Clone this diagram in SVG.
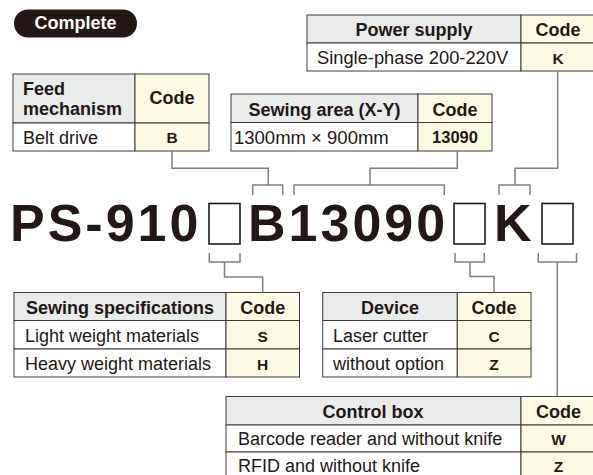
<svg xmlns="http://www.w3.org/2000/svg" width="593" height="475" viewBox="0 0 593 475">
<defs>
<style>
text{font-family:"Liberation Sans",Arial,Helvetica,sans-serif;font-size:18px;fill:#231815}
.b{font-weight:bold}
.c{text-anchor:middle}
.k{font-size:15.5px}
.hd{fill:#eaebeb;stroke:#3e3a39;stroke-width:1}
.cd{fill:#fdfbe4;stroke:#3e3a39;stroke-width:1}
.rw{fill:#ffffff;stroke:#3e3a39;stroke-width:1}
.big{font-size:52px;font-weight:bold;letter-spacing:3px}
.box{fill:#ffffff;stroke:#231815;stroke-width:1.6}
.ln{fill:none;stroke:#7f7f7f;stroke-width:1.5}
</style>
</defs>
<rect width="593" height="475" fill="#ffffff"/>

<g id="badge">
<rect x="14" y="9.5" width="123" height="28" rx="14" fill="#231815"/>
<text x="75.5" y="29" class="b c" style="fill:#ffffff">Complete</text>
</g>

<g id="title">
<text x="10" y="241" class="big">PS-910</text>
<rect x="209" y="203.5" width="31" height="40.5" class="box"/>
<text x="248" y="241" class="big">B13090</text>
<rect x="454" y="203.5" width="31" height="40.5" class="box"/>
<text x="494" y="241" class="big">K</text>
<rect x="542" y="203.5" width="31" height="40.5" class="box"/>
</g>

<g id="feed">
<rect x="13" y="74" width="122" height="49" class="hd"/>
<rect x="135" y="74" width="74" height="49" class="cd"/>
<rect x="13" y="123" width="122" height="28" class="rw"/>
<rect x="135" y="123" width="74" height="28" class="cd"/>
<text x="23" y="95" class="b">Feed</text>
<text x="23" y="115" class="b">mechanism</text>
<text x="172" y="104" class="b c">Code</text>
<text x="23" y="143.5">Belt drive</text>
<text x="172" y="143" class="b c k">B</text>
</g>

<g id="sewing-area">
<rect x="231" y="94" width="187" height="28.5" class="hd"/>
<rect x="418" y="94" width="74" height="28.5" class="cd"/>
<rect x="231" y="122.5" width="187" height="28.5" class="rw"/>
<rect x="418" y="122.5" width="74" height="28.5" class="cd"/>
<text x="324.5" y="115.5" class="b c">Sewing area (X-Y)</text>
<text x="455" y="115.5" class="b c">Code</text>
<text x="234" y="143.5" style="font-size:18.5px">1300mm × 900mm</text>
<text x="455" y="143" class="b c" style="font-size:16.5px">13090</text>
</g>

<g id="power-supply">
<rect x="307" y="15" width="214" height="28" class="hd"/>
<rect x="521" y="15" width="76" height="28" class="cd"/>
<rect x="307" y="43" width="214" height="28" class="rw"/>
<rect x="521" y="43" width="76" height="28" class="cd"/>
<text x="414" y="36" class="b c">Power supply</text>
<text x="558" y="36" class="b c">Code</text>
<text x="317" y="64" style="font-size:18.3px">Single-phase 200-220V</text>
<text x="558" y="64" class="b c k">K</text>
</g>

<g id="sewing-specifications">
<rect x="14" y="292.5" width="212" height="28" class="hd"/>
<rect x="226" y="292.5" width="73.5" height="28" class="cd"/>
<rect x="14" y="320.5" width="212" height="28.5" class="rw"/>
<rect x="226" y="320.5" width="73.5" height="28.5" class="cd"/>
<rect x="14" y="349" width="212" height="28" class="rw"/>
<rect x="226" y="349" width="73.5" height="28" class="cd"/>
<text x="120" y="313.5" class="b c">Sewing specifications</text>
<text x="262.7" y="313.5" class="b c">Code</text>
<text x="25" y="341.5">Light weight materials</text>
<text x="262.7" y="341.5" class="b c k">S</text>
<text x="25" y="369.5">Heavy weight materials</text>
<text x="262.7" y="369.5" class="b c k">H</text>
</g>

<g id="device">
<rect x="322.7" y="292.5" width="134.6" height="28" class="hd"/>
<rect x="457.3" y="292.5" width="73.7" height="28" class="cd"/>
<rect x="322.7" y="320.5" width="134.6" height="28.5" class="rw"/>
<rect x="457.3" y="320.5" width="73.7" height="28.5" class="cd"/>
<rect x="322.7" y="349" width="134.6" height="28" class="rw"/>
<rect x="457.3" y="349" width="73.7" height="28" class="cd"/>
<text x="390" y="313.5" class="b c">Device</text>
<text x="494" y="313.5" class="b c">Code</text>
<text x="333" y="341.5">Laser cutter</text>
<text x="494" y="341.5" class="b c k">C</text>
<text x="333" y="369.5">without option</text>
<text x="494" y="369.5" class="b c k">Z</text>
</g>

<g id="control-box">
<rect x="226" y="396.5" width="295" height="28.5" class="hd"/>
<rect x="521" y="396.5" width="76" height="28.5" class="cd"/>
<rect x="226" y="425" width="295" height="27" class="rw"/>
<rect x="521" y="425" width="76" height="27" class="cd"/>
<rect x="226" y="452" width="295" height="28" class="rw"/>
<rect x="521" y="452" width="76" height="28" class="cd"/>
<text x="373" y="418" class="b c">Control box</text>
<text x="558.5" y="418" class="b c">Code</text>
<text x="238" y="445">Barcode reader and without knife</text>
<text x="558.5" y="445" class="b c k">W</text>
<text x="238" y="472">RFID and without knife</text>
<text x="558.5" y="472" class="b c k">Z</text>
</g>

<g id="connectors" class="ln">
<path d="M172 151V168.3H268.3V185M252.7 195V185H282.7V195"/>
<path d="M457.3 151V168.3H370V185M294 195V185H444.3V195"/>
<path d="M557.7 71V168.3H515V185M499 195V185H530V195"/>
<path d="M209.3 253V262H240V253M224.5 262V277H262.7V292.5"/>
<path d="M455 253V262H484.3V253M470 262V276.5H494V292.5"/>
<path d="M538.3 253V262H576.5V253M557.3 262V396.5"/>
</g>
</svg>
